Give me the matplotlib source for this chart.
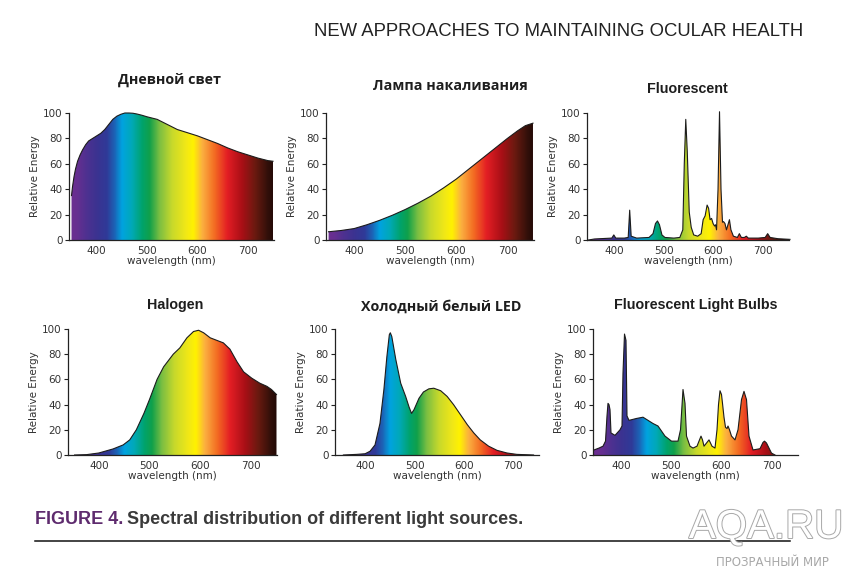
import matplotlib
matplotlib.use("Agg")
from matplotlib import pyplot as plt
from matplotlib.colors import LinearSegmentedColormap, Normalize
from matplotlib.patches import Polygon
from matplotlib.lines import Line2D
from matplotlib import patheffects
import numpy as np

W_PX, H_PX = 850, 573

# Panel titles
titles = ["Дневной свет", "Лампа накаливания", "Fluorescent",
          "Halogen", "Холодный белый LED", "Fluorescent Light Bulbs"]

# Spectra (wavelength nm, relative energy)
daylight_nm  = [350, 352, 355, 358, 362, 367, 372, 378, 384, 392, 400, 408, 416, 424, 432,
                440, 448, 456, 464, 472, 480, 490, 500, 520, 540, 560, 580, 600, 620, 640,
                660, 680, 700, 720, 740, 750]
daylight_val = [35, 42, 50, 56, 62, 67, 71, 75, 78, 80, 82, 84, 87, 91, 95,
                97.5, 99, 100, 100, 99.8, 99.2, 98.2, 97, 95, 91, 87, 84.5, 82, 79, 76,
                72.5, 69.5, 67, 64.5, 62.5, 62]

incand_nm  = [350, 375, 400, 425, 450, 475, 500, 525, 550, 575, 600, 625, 650, 675, 700,
              720, 735, 750]
incand_val = [6.5, 7.5, 9, 12, 15.5, 19.5, 24, 29, 34.5, 41, 48, 56, 64, 72, 80,
              86, 90, 92]

fluor_nm  = [348, 360, 380, 395, 399, 403, 420, 428, 431, 434, 445, 470, 478, 483, 487,
             491, 496, 502, 520, 532, 538, 541, 544, 547, 551, 555, 560, 568, 575, 579,
             583, 587, 590, 593, 596, 599, 602, 604, 606, 609, 612, 615, 618, 620, 623,
             626, 629, 632, 635, 640, 648, 652, 656, 662, 666, 670, 690, 704, 709, 714,
             730, 754]
fluor_val = [0, 0.8, 1.2, 1.5, 4, 1.5, 1.5, 2, 23.5, 3, 1.5, 2, 5, 13, 15,
             12, 4, 2, 1.5, 2, 8, 60, 95, 70, 22, 10, 4, 3, 5, 16,
             19, 27.5, 25, 16, 17, 13, 11, 12, 8, 40, 101, 40, 14, 14.5, 13,
             8, 12, 16, 8, 3, 2, 5, 2, 2, 3, 1.5, 1.5, 2, 5, 2,
             1, 0.5]

halogen_nm  = [352, 376, 400, 428, 448, 461, 474, 489, 500, 515, 528, 547, 560, 574, 587,
               597, 607, 620, 633, 646, 659, 673, 686, 702, 718, 732, 741, 751]
halogen_val = [0, 0.3, 1.6, 4.8, 8, 12, 20, 33, 44, 60, 70, 80, 85, 93, 98,
               99, 97, 93, 91, 89, 84, 74, 66, 61, 57, 54.5, 52, 48]

led_nm  = [356, 383, 400, 410, 420, 430, 438, 444, 449, 451, 454, 462, 472, 482, 489,
           494, 499, 509, 518, 529, 539, 553, 566, 579, 593, 607, 620, 633, 650, 667,
           687, 707, 741]
led_val = [0, 0.5, 1, 3, 8, 25, 52, 78, 95.5, 97, 94, 76, 57, 46.5, 38,
           33, 36, 45, 50, 52.5, 53, 51, 46.5, 40, 32, 24, 17.5, 12, 7, 3.7,
           1.6, 0.5, 0]

bulbs_nm  = [345, 355, 363, 368, 371, 373, 375, 377, 379, 387, 397, 401, 403, 406, 409,
             411, 415, 430, 443, 453, 463, 473, 487, 500, 513, 518, 523, 527, 530, 537,
             543, 551, 556, 559, 562, 565, 570, 575, 581, 587, 591, 594, 597, 600, 602,
             605, 608, 611, 613, 616, 620, 627, 633, 640, 645, 650, 655, 663, 677, 683,
             686, 690, 700, 707]
bulbs_val = [4, 5.5, 7, 11, 31, 41, 40, 36, 17.5, 15.6, 20, 23, 65, 96, 91,
             31, 27.5, 29, 30, 27.5, 25, 23, 15, 11, 11, 20, 52, 41, 15, 7,
             5.5, 7, 12, 15, 12, 7, 9.5, 12, 7, 5.5, 20, 40, 51, 48, 41,
             30, 22, 21, 23, 20, 15, 12, 20, 44, 50.5, 44, 15, 4, 5, 10,
             11, 9.5, 1.5, 0]

spectra = [(daylight_nm, daylight_val), (incand_nm, incand_val), (fluor_nm, fluor_val),
           (halogen_nm, halogen_val), (led_nm, led_val), (bulbs_nm, bulbs_val)]

x_ticks = [400, 500, 600, 700]
y_ticks = [0, 20, 40, 60, 80, 100]

# Layout in pixels: (left, top, right, bottom) of each plot area, x limits, title position
boxes = [(69, 113, 274, 240), (326, 113, 534, 240), (587, 113, 789, 240),
         (68, 329, 277, 455), (335, 329, 539, 455), (593, 329, 798, 455)]
xlims = [(345, 752), (345, 752), (345, 752), (339, 752), (339, 752), (343, 753)]
title_xy = [(170, 80), (450, 86), (687, 89), (175, 305), (441, 307), (696, 305)]
title_fonts = ["Open Sans", "Open Sans", "Liberation Sans",
               "Liberation Sans", "Open Sans", "Liberation Sans"]

# Wavelength -> colour gradient used for the fills
lo, hi = 339, 753
stops = [(339, "#6f2e91"), (360, "#662f90"), (380, "#4d3190"), (400, "#3b3391"),
         (420, "#2f3a98"), (435, "#1c63b6"), (450, "#00a3e0"), (470, "#00a9b6"),
         (490, "#00a36c"), (505, "#10a04a"), (525, "#7cbf42"), (550, "#c8d92b"),
         (578, "#f2e816"), (592, "#fff200"), (610, "#fbb040"), (635, "#f36a22"),
         (660, "#e31e24"), (690, "#a80f16"), (715, "#6b1a10"), (740, "#33100a"),
         (753, "#200805")]
spectrum = LinearSegmentedColormap.from_list(
    "spectrum", [((w - lo) / (hi - lo), c) for w, c in stops])

fig = plt.figure(figsize=(W_PX / 100, H_PX / 100), dpi=100)
fig.patch.set_facecolor("white")

def px_box(l, t, r, b):
    return [l / W_PX, 1 - b / H_PX, (r - l) / W_PX, (b - t) / H_PX]

grad = np.linspace(lo, hi, 1000)[None, :]

for i, (nm, val) in enumerate(spectra):
    ax = fig.add_axes(px_box(*boxes[i]))
    ax.imshow(grad, cmap=spectrum, norm=Normalize(lo, hi), extent=(lo, hi, 0, 103),
              aspect="auto", origin="lower", interpolation="bilinear", zorder=1)
    verts = [(nm[0], 0)] + list(zip(nm, val)) + [(nm[-1], 0)]
    poly = Polygon(verts, closed=True, facecolor="none", edgecolor="none",
                   transform=ax.transData)
    ax.add_patch(poly)
    img = ax.images[0]
    img.set_clip_path(poly)
    img.set_clip_box(None)
    ax.plot(nm, val, color="#1c1c1c", lw=0.8, zorder=3, clip_on=False)

    ax.set_xlim(*xlims[i])
    ax.set_ylim(0, 100)
    ax.set_xticks(x_ticks)
    ax.set_yticks(y_ticks)
    for s in ["top", "right"]:
        ax.spines[s].set_visible(False)
    for s in ["left", "bottom"]:
        ax.spines[s].set_color("#222222")
        ax.spines[s].set_linewidth(0.9)
        ax.spines[s].set_zorder(4)
    ax.tick_params(axis="x", length=0, pad=4, labelsize=7.5, labelcolor="#333333")
    ax.tick_params(axis="y", length=3, width=0.8, pad=1.5, labelsize=7.5,
                   labelcolor="#333333", color="#222222")
    ax.set_xlabel("wavelength (nm)", fontsize=7.5, color="#333333", labelpad=0)
    ax.set_ylabel("Relative Energy", fontsize=7.5, color="#333333", labelpad=2)

    tx, ty = title_xy[i]
    fig.text(tx / W_PX, 1 - ty / H_PX, titles[i], ha="center", va="center",
             fontsize=10.3, fontweight="bold", color="#1e1e1e",
             family=[title_fonts[i], "DejaVu Sans"])

cond = ["Liberation Sans", "DejaVu Sans"]

# Journal header
fig.text(559 / W_PX, 1 - 31 / H_PX, "NEW APPROACHES TO MAINTAINING OCULAR HEALTH",
         ha="center", va="center", fontsize=13.3, color="#222222", family=cond)

# Caption with coloured figure number
cap_y = 1 - 520 / H_PX
t1 = fig.text(35 / W_PX, cap_y, "FIGURE 4.", ha="left", va="center", fontsize=13,
              fontweight="bold", color="#5e2b6e", family=cond)
fig.canvas.draw()
bb = t1.get_window_extent(fig.canvas.get_renderer())
fig.text((bb.x1 + 4) / W_PX, cap_y, "Spectral distribution of different light sources.",
         ha="left", va="center", fontsize=13, fontweight="bold", color="#3a3a3a",
         family=cond)

fig.add_artist(Line2D([35 / W_PX, 790 / W_PX], [1 - 541 / H_PX] * 2,
                      color="#111111", lw=1.1))

# Watermark
fig.text(766 / W_PX, 1 - 527 / H_PX, "AQA.RU", ha="center", va="center",
         fontsize=29, color="white", family=cond,
         path_effects=[patheffects.withStroke(linewidth=1.4, foreground="#a8a8a8")])
fig.text(772 / W_PX, 1 - 563 / H_PX, "ПРОЗРАЧНЫЙ МИР", ha="center", va="center",
         fontsize=8.5, color="#a8a8a8", family=["DejaVu Sans"])

fig.savefig("out.png", dpi=100)
